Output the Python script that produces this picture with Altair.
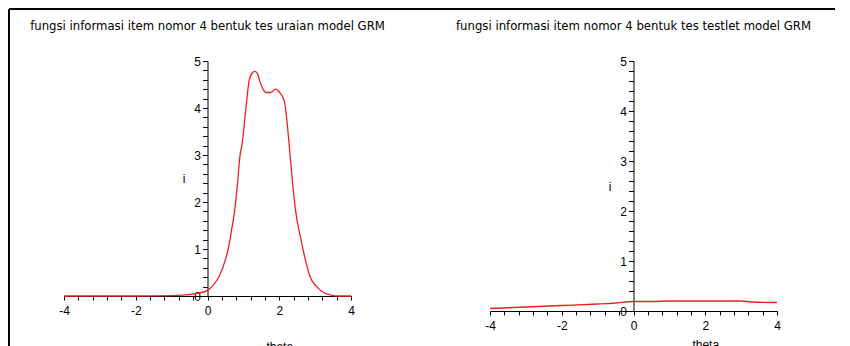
import altair as alt
import pandas as pd

# ---- data ----
title_left = "fungsi informasi item nomor 4 bentuk tes uraian model GRM"
title_right = "fungsi informasi item nomor 4 bentuk tes testlet model GRM"

theta_uraian = [-4.0, -3.0, -2.0, -1.0, -0.5, -0.25, 0.0, 0.15, 0.32, 0.51, 0.6, 0.67,
                0.74, 0.84, 0.9, 0.97, 1.07, 1.16, 1.25, 1.32, 1.4, 1.47, 1.55, 1.62,
                1.76, 1.9, 2.01, 2.14, 2.2, 2.27, 2.37, 2.46, 2.6, 2.74, 2.88, 3.02,
                3.2, 3.44, 3.62, 4.0]
info_uraian = [0.0, 0.0, 0.0, 0.01, 0.03, 0.06, 0.12, 0.22, 0.41, 0.8, 1.08, 1.4,
               1.72, 2.42, 2.95, 3.27, 3.98, 4.58, 4.75, 4.78, 4.72, 4.54, 4.4, 4.33,
               4.33, 4.4, 4.33, 4.15, 3.83, 3.27, 2.42, 1.79, 1.22, 0.73, 0.37, 0.22,
               0.09, 0.02, 0.0, 0.0]

theta_testlet = [-4.0, -3.0, -2.0, -1.0, -0.5, 0.0, 0.5, 1.0, 2.0, 3.0, 3.3, 4.0]
info_testlet = [0.05, 0.08, 0.11, 0.14, 0.16, 0.19, 0.19, 0.2, 0.2, 0.2, 0.18, 0.17]

x_ticks = [round(-4 + 0.4 * k, 1) for k in range(21)]
y_ticks = [round(0.2 * k, 1) for k in range(26)]

W = 287
H_LEFT = 235
H_RIGHT = 250
FONT = "Liberation Sans"
RED = "#f01e1e"


def panel(theta, info, title, height, xtitle_y, rule_x1, rule_x2, border=False):
    df = pd.DataFrame({"theta": theta, "i": info})
    x_axis = alt.Axis(values=x_ticks,
                      labelExpr="abs(datum.value/2 - round(datum.value/2)) < 1e-6 ? '' + round(datum.value) : ''",
                      tickSize=4, labelPadding=5, labelOverlap=False, labelFlush=False,
                      labelFont=FONT, labelFontSize=12, labelColor="black",
                      domainColor="black", tickColor="black", grid=False,
                      title="theta", titleX=W * 0.75, titleY=xtitle_y,
                      titleBaseline="top", titleAlign="center", titleFont=FONT,
                      titleFontSize=12, titleFontWeight="normal", titleColor="black")
    y_axis = alt.Axis(values=y_ticks,
                      labelExpr="abs(datum.value - round(datum.value)) < 1e-6 ? '' + round(datum.value) : ''",
                      tickSize=5, labelPadding=2, labelOverlap=False, labelFlush=False,
                      labelFont=FONT, labelFontSize=12, labelColor="black",
                      domainColor="black", tickColor="black", grid=False,
                      offset=-W / 2,
                      title="i", titleAngle=0, titleX=-24, titleY=height / 2,
                      titleBaseline="middle", titleAlign="center", titleFont=FONT,
                      titleFontSize=12, titleFontWeight="normal", titleColor="black")
    line = alt.Chart(df).mark_line(color=RED, strokeWidth=1.3, interpolate="monotone").encode(
        x=alt.X("theta:Q", scale=alt.Scale(domain=[-4, 4], nice=False, zero=False), axis=x_axis),
        y=alt.Y("i:Q", scale=alt.Scale(domain=[0, 5], nice=False), axis=y_axis),
    )
    dummy = pd.DataFrame({"k": [0]})
    top_rule = alt.Chart(dummy).mark_rule(color="black", strokeWidth=2).encode(
        x=alt.value(rule_x1), x2=alt.value(rule_x2), y=alt.value(-52))
    layers = [line, top_rule]
    if border:
        left_rule = alt.Chart(dummy).mark_rule(color="black", strokeWidth=2).encode(
            x=alt.value(-55), y=alt.value(-52), y2=alt.value(290))
        layers.append(left_rule)
    return alt.layer(*layers).properties(
        width=W, height=height,
        title=alt.TitleParams(text=title, anchor="middle", frame="group", font="DejaVu Sans",
                              fontSize=11.7, fontWeight="normal", color="black",
                              baseline="bottom", offset=-36),
    )


left = panel(theta_uraian, info_uraian, title_left, H_LEFT, 45, -55, W + 70, border=True)
right = panel(theta_testlet, info_testlet, title_right, H_RIGHT, 28, -70, W + 58)

chart = alt.hconcat(left, right, spacing=139, bounds="flush").properties(
    padding=0, background="white"
).configure_view(stroke=None)

chart.save("out.html", embed_options={"renderer": "svg", "actions": False})
